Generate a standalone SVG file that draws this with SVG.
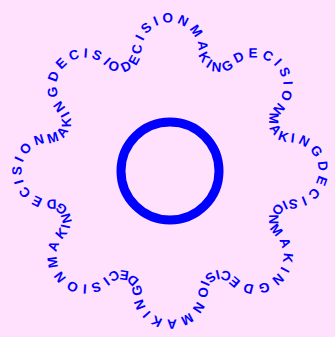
<svg xmlns="http://www.w3.org/2000/svg" xmlns:xlink="http://www.w3.org/1999/xlink" width="335" height="337" viewBox="0 0 335 337">
  <style>
    .ring-text { font-family: "Liberation Sans", Arial, sans-serif; font-weight: bold; font-size: 13.5px; letter-spacing: 3.63px; fill: #0000ff; }
  </style>
  <defs>
    <path id="gear" d="M123.49,71.66 A21.4,21.4 0 0 0 128.29,70.3 A21.4,21.4 0 0 0 141.5,50.73 A28.5,28.5 0 0 1 170,22.5 A28.5,28.5 0 0 1 198.5,50.73 A21.4,21.4 0 0 0 211.71,70.3 A21.4,21.4 0 0 0 234.89,65.8 A28.5,28.5 0 0 1 275.01,65.99 A28.5,28.5 0 0 1 275.2,106.11 A21.4,21.4 0 0 0 270.7,129.29 A21.4,21.4 0 0 0 290.27,142.5 A28.5,28.5 0 0 1 318.5,171 A28.5,28.5 0 0 1 290.27,199.5 A21.4,21.4 0 0 0 270.7,212.71 A21.4,21.4 0 0 0 275.2,235.89 A28.5,28.5 0 0 1 275.01,276.01 A28.5,28.5 0 0 1 234.89,276.2 A21.4,21.4 0 0 0 211.71,271.7 A21.4,21.4 0 0 0 198.5,291.27 A28.5,28.5 0 0 1 170,319.5 A28.5,28.5 0 0 1 141.5,291.27 A21.4,21.4 0 0 0 128.29,271.7 A21.4,21.4 0 0 0 105.11,276.2 A28.5,28.5 0 0 1 64.99,276.01 A28.5,28.5 0 0 1 64.8,235.89 A21.4,21.4 0 0 0 69.3,212.71 A21.4,21.4 0 0 0 49.73,199.5 A28.5,28.5 0 0 1 21.5,171 A28.5,28.5 0 0 1 49.73,142.5 A21.4,21.4 0 0 0 69.3,129.29 A21.4,21.4 0 0 0 64.8,106.11 A28.5,28.5 0 0 1 64.99,65.99 A28.5,28.5 0 0 1 105.11,65.8 A21.4,21.4 0 0 0 123.49,71.66"/>
  </defs>
  <rect x="0" y="0" width="335" height="337" fill="#ffe1fe"/>
  <text class="ring-text"><textPath xlink:href="#gear" href="#gear">DECISIONMAKINGDECISIONMAKINGDECISIONMAKINGDECISIONMAKINGDECISIONMAKINGDECISIONMAKINGDECISIONMAKING</textPath></text>
  <circle cx="170" cy="171" r="49" fill="none" stroke="#0000ff" stroke-width="9"/>
</svg>
